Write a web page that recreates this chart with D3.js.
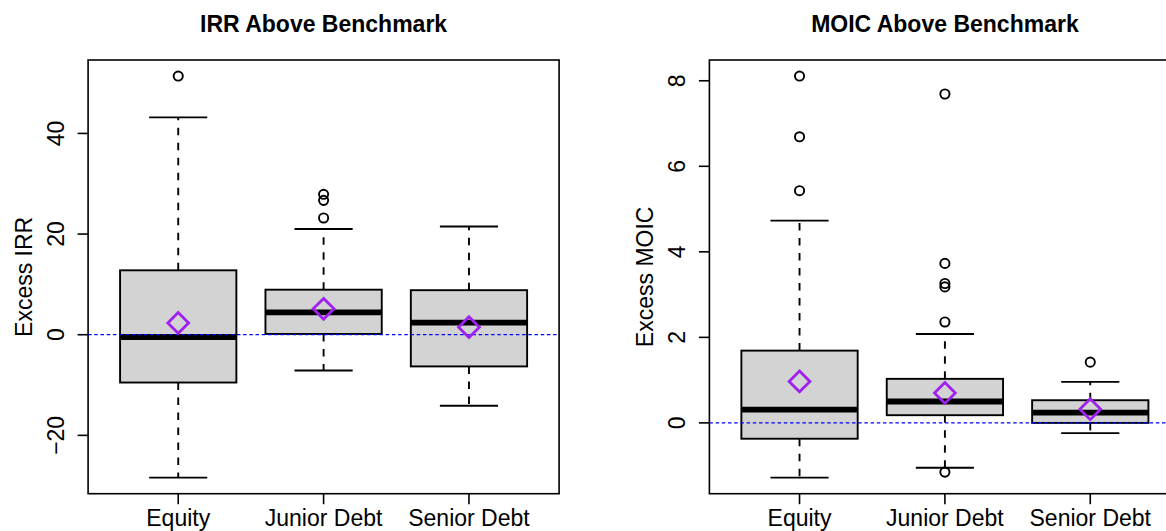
<!DOCTYPE html>
<html>
<head>
<meta charset="utf-8">
<script src="https://cdn.jsdelivr.net/npm/d3@7"></script>
<style>
  body { margin: 0; background: #fff; }
  svg { display: block; font-family: "Liberation Sans", Arial, Helvetica, sans-serif; }
</style>
</head>
<body>
<svg id="chart"></svg>
<script>
const groups = ["Equity", "Junior Debt", "Senior Debt"];

// IRR above benchmark (box stats per group)
const irrLower = [-28.4, -7.1, -14.1];
const irrQ1 = [-9.5, 0.15, -6.3];
const irrMedian = [-0.45, 4.45, 2.4];
const irrQ3 = [12.8, 8.95, 8.85];
const irrUpper = [43.2, 21.0, 21.5];
const irrMean = [2.35, 5.15, 1.5];
const irrOutliers = [[51.4], [27.9, 26.7, 23.2], []];
const irrTicks = [-20, 0, 20, 40];

// MOIC above benchmark
const moicLower = [-1.28, -1.05, -0.24];
const moicQ1 = [-0.37, 0.18, 0.0];
const moicMedian = [0.31, 0.50, 0.24];
const moicQ3 = [1.69, 1.03, 0.53];
const moicUpper = [4.73, 2.08, 0.96];
const moicMean = [0.97, 0.70, 0.32];
const moicOutliers = [[8.11, 6.69, 5.43], [7.69, 3.73, 3.26, 3.18, 2.36, -1.15], [1.42]];
const moicTicks = [0, 2, 4, 6, 8];

const width = 1166, height = 531;
const svg = d3.select("#chart").attr("width", width).attr("height", height);

const fontSize = 23;
const lw = 1.9;

function panel(opts) {
  const { left, right, top, bottom, title, ylab, lower, q1, median, q3, upper, mean, outliers, ticks } = opts;
  const g = svg.append("g");

  const x = d3.scaleLinear().domain([0.38, groups.length + 0.62]).range([left, right]);

  // R-style 4% padding around the data range
  const all = lower.concat(upper, outliers.flat());
  const [lo, hi] = d3.extent(all);
  const pad = (hi - lo) * 0.04;
  const y = d3.scaleLinear().domain([lo - pad, hi + pad]).range([bottom, top]);

  const data = groups.map((name, i) => ({
    name, i: i + 1, lower: lower[i], q1: q1[i], median: median[i], q3: q3[i],
    upper: upper[i], mean: mean[i], out: outliers[i]
  }));

  const boxes = g.selectAll("g.box").data(data).enter().append("g").attr("class", "box");

  // whiskers (dashed)
  boxes.append("line")
    .attr("x1", d => x(d.i)).attr("x2", d => x(d.i))
    .attr("y1", d => y(d.q3)).attr("y2", d => y(d.upper))
    .attr("stroke", "#000").attr("stroke-width", lw).attr("stroke-dasharray", "7.5,7.5");
  boxes.append("line")
    .attr("x1", d => x(d.i)).attr("x2", d => x(d.i))
    .attr("y1", d => y(d.q1)).attr("y2", d => y(d.lower))
    .attr("stroke", "#000").attr("stroke-width", lw).attr("stroke-dasharray", "7.5,7.5");

  // staples
  boxes.selectAll("line.cap").data(d => [d.upper, d.lower].map(v => ({ i: d.i, v })))
    .enter().append("line").attr("class", "cap")
    .attr("x1", d => x(d.i - 0.2)).attr("x2", d => x(d.i + 0.2))
    .attr("y1", d => y(d.v)).attr("y2", d => y(d.v))
    .attr("stroke", "#000").attr("stroke-width", lw);

  // boxes
  boxes.append("rect")
    .attr("x", d => x(d.i - 0.4))
    .attr("width", d => x(d.i + 0.4) - x(d.i - 0.4))
    .attr("y", d => y(d.q3))
    .attr("height", d => y(d.q1) - y(d.q3))
    .attr("fill", "#d3d3d3").attr("stroke", "#000").attr("stroke-width", lw);

  // medians
  boxes.append("line")
    .attr("x1", d => x(d.i - 0.4)).attr("x2", d => x(d.i + 0.4))
    .attr("y1", d => y(d.median)).attr("y2", d => y(d.median))
    .attr("stroke", "#000").attr("stroke-width", 5.8);

  // outliers
  boxes.selectAll("circle").data(d => d.out.map(v => ({ i: d.i, v })))
    .enter().append("circle")
    .attr("cx", d => x(d.i)).attr("cy", d => y(d.v)).attr("r", 4.6)
    .attr("fill", "none").attr("stroke", "#000").attr("stroke-width", lw);

  // frame
  g.append("rect")
    .attr("x", left).attr("y", top)
    .attr("width", right - left).attr("height", bottom - top)
    .attr("fill", "none").attr("stroke", "#000").attr("stroke-width", 1.6);

  // y axis
  const ya = g.append("g");
  ya.selectAll("line").data(ticks).enter().append("line")
    .attr("x1", left - 10.5).attr("x2", left)
    .attr("y1", d => y(d)).attr("y2", d => y(d))
    .attr("stroke", "#000").attr("stroke-width", 1.6);
  ya.selectAll("text").data(ticks).enter().append("text")
    .attr("transform", d => `translate(${left - 24.5},${y(d)}) rotate(-90)`)
    .attr("text-anchor", "middle")
    .attr("font-size", fontSize)
    .text(d => d < 0 ? "\u2212" + Math.abs(d) : d);

  // x axis
  const xa = g.append("g");
  xa.selectAll("line").data(data).enter().append("line")
    .attr("x1", d => x(d.i)).attr("x2", d => x(d.i))
    .attr("y1", bottom).attr("y2", bottom + 10.5)
    .attr("stroke", "#000").attr("stroke-width", 1.6);
  xa.selectAll("text").data(data).enter().append("text")
    .attr("x", d => x(d.i)).attr("y", 525.5)
    .attr("text-anchor", "middle")
    .attr("font-size", fontSize)
    .text(d => d.name);

  // benchmark line
  g.append("line")
    .attr("x1", left).attr("x2", right)
    .attr("y1", y(0)).attr("y2", y(0))
    .attr("stroke", "blue").attr("stroke-width", 1.2).attr("stroke-dasharray", "3.5,2.7");

  // means
  g.selectAll("path.mean").data(data).enter().append("path")
    .attr("class", "mean")
    .attr("d", d3.symbol(d3.symbolSquare, 2 * 10.4 * 10.4))
    .attr("transform", d => `translate(${x(d.i)},${y(d.mean)}) rotate(45)`)
    .attr("fill", "none").attr("stroke", "#a020f0").attr("stroke-width", 2.8);

  // titles
  g.append("text")
    .attr("x", (left + right) / 2).attr("y", 31.7)
    .attr("text-anchor", "middle")
    .attr("font-size", fontSize).attr("font-weight", "bold")
    .text(title);
  g.append("text")
    .attr("transform", `translate(${left - 56.5},${(top + bottom) / 2}) rotate(-90)`)
    .attr("text-anchor", "middle")
    .attr("font-size", fontSize)
    .text(ylab);
}

panel({
  left: 88.1, right: 559.1, top: 60, bottom: 493.7,
  title: "IRR Above Benchmark", ylab: "Excess IRR",
  lower: irrLower, q1: irrQ1, median: irrMedian, q3: irrQ3, upper: irrUpper,
  mean: irrMean, outliers: irrOutliers, ticks: irrTicks
});

panel({
  left: 709.4, right: 1180.4, top: 60, bottom: 493.7,
  title: "MOIC Above Benchmark", ylab: "Excess MOIC",
  lower: moicLower, q1: moicQ1, median: moicMedian, q3: moicQ3, upper: moicUpper,
  mean: moicMean, outliers: moicOutliers, ticks: moicTicks
});
</script>
</body>
</html>
